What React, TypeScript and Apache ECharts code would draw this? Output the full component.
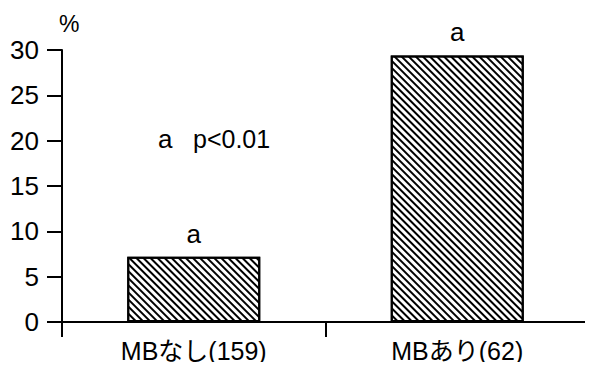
import React, { useEffect, useRef } from "react";
import * as echarts from "echarts";

const categories = ["MBなし(159)", "MBあり(62)"];
const values = [7.2, 29.4];
const barLabels = ["a", "a"];
const yTicks = [0, 5, 10, 15, 20, 25, 30];
const unitLabel = "%";
const noteLetter = "a";
const noteText = "p<0.01";

const FONT = "'Liberation Sans', Arial, 'Noto Sans CJK JP', sans-serif";

export default function App() {
  const ref = useRef<HTMLDivElement>(null);
  useEffect(() => {
    if (!ref.current) return;
    const chart = echarts.init(ref.current, null, { renderer: "svg" });
    chart.setOption({
      animation: false,
      backgroundColor: "#ffffff",
      grid: { left: 62, right: 4, top: 50, bottom: 48, containLabel: false },
      xAxis: {
        type: "category",
        data: categories,
        axisLine: { show: true, lineStyle: { color: "#000", width: 2 } },
        axisTick: { show: true, length: 15, lineStyle: { color: "#000", width: 2 } },
        axisLabel: { color: "#000", fontSize: 25, fontFamily: FONT, margin: 16 },
      },
      yAxis: {
        type: "value",
        min: yTicks[0],
        max: yTicks[yTicks.length - 1],
        interval: 5,
        splitLine: { show: false },
        axisLine: { show: true, lineStyle: { color: "#000", width: 2 } },
        axisTick: { show: true, length: 15, lineStyle: { color: "#000", width: 2 } },
        axisLabel: { color: "#000", fontSize: 26, fontFamily: FONT, margin: 23 },
      },
      graphic: [
        {
          type: "text",
          x: 59,
          y: 24,
          style: {
            text: unitLabel,
            fontSize: 23,
            fontFamily: FONT,
            fill: "#000",
            verticalAlign: "middle",
          },
        },
        {
          type: "text",
          x: 158,
          y: 139,
          style: {
            text: noteLetter,
            fontSize: 26,
            fontFamily: FONT,
            fill: "#000",
            verticalAlign: "middle",
          },
        },
        {
          type: "text",
          x: 193,
          y: 139,
          style: {
            text: noteText,
            fontSize: 25,
            fontFamily: FONT,
            fill: "#000",
            verticalAlign: "middle",
          },
        },
      ],
      series: [
        {
          type: "bar",
          data: values.map((v, i) => ({
            value: v,
            label: { formatter: barLabels[i] },
          })),
          barWidth: 133,
          itemStyle: {
            color: "#ffffff",
            borderColor: "#000",
            borderWidth: 2,
            decal: {
              symbol: "rect",
              symbolSize: 1,
              dashArrayX: [1, 0],
              dashArrayY: [2, 3],
              rotation: Math.PI / 4,
              color: "#000",
              backgroundColor: "#fff",
            },
          },
          label: {
            show: true,
            position: "top",
            distance: 10,
            color: "#000",
            fontSize: 26,
            fontFamily: FONT,
          },
        },
      ],
    });
    return () => chart.dispose();
  }, []);
  return <div ref={ref} style={{ width: 593, height: 370, margin: -8 }} />;
}
